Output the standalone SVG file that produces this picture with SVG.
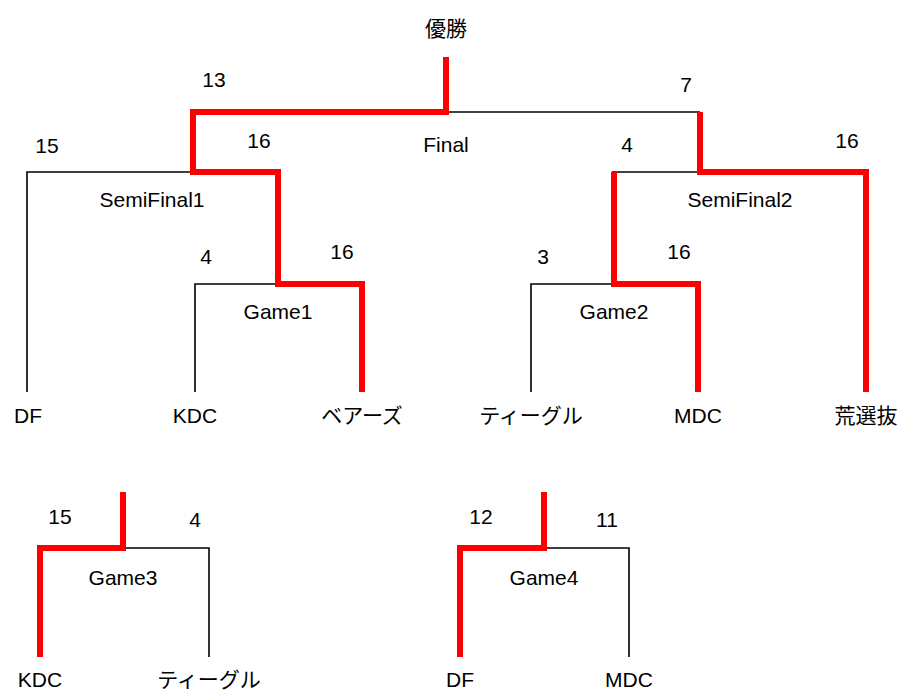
<svg xmlns="http://www.w3.org/2000/svg" width="900" height="692" viewBox="0 0 900 692">
<style>
text{font-family:"Liberation Sans","Noto Sans CJK JP",sans-serif;font-size:21px;fill:#000;text-anchor:middle}
.b{fill:none;stroke:#000;stroke-width:1.6}
.r{fill:none;stroke:#ff0000;stroke-width:6;stroke-linejoin:miter;stroke-linecap:butt}
</style>
<rect width="900" height="692" fill="#fff"/>
<g id="connectors">
<path class="b" d="M446,112 H700"/>
<path class="b" d="M193,172 H27 V392"/>
<path class="b" d="M278,284 H195 V392"/>
<path class="b" d="M700,172 H612"/>
<path class="b" d="M614,284 H531 V392"/>
<path class="r" d="M446,57 V112 H193 V172 H278 V284 H362 V392"/>
<path class="r" d="M700,112 V172 H866 V392"/>
<path class="r" d="M614,172 V284 H698 V392"/>
<path class="b" d="M123,548 H209 V657"/>
<path class="r" d="M123,492 V548 H40 V657"/>
<path class="b" d="M544,548 H629 V657"/>
<path class="r" d="M544,492 V548 H460 V657"/>
</g>
<g id="champion"><text x="446" y="36">優勝</text></g>
<g id="final"><text x="446" y="152">Final</text><text x="214" y="87">13</text><text x="686" y="92">7</text></g>
<g id="semifinal1"><text x="152" y="207">SemiFinal1</text><text x="47" y="153">15</text><text x="259" y="148">16</text></g>
<g id="semifinal2"><text x="740" y="207">SemiFinal2</text><text x="627" y="152">4</text><text x="847" y="148">16</text></g>
<g id="game1"><text x="278" y="319">Game1</text><text x="206" y="264">4</text><text x="342" y="259">16</text></g>
<g id="game2"><text x="614" y="319">Game2</text><text x="543" y="264">3</text><text x="679" y="259">16</text></g>
<g id="team-df"><text x="28" y="423">DF</text></g>
<g id="team-kdc"><text x="195" y="423">KDC</text></g>
<g id="team-bears"><text x="362" y="423">ベアーズ</text></g>
<g id="team-teagle"><text x="531" y="423">ティーグル</text></g>
<g id="team-mdc"><text x="698" y="423">MDC</text></g>
<g id="team-arasenbatsu"><text x="866" y="423">荒選抜</text></g>
<g id="game3"><text x="123" y="585">Game3</text><text x="60" y="524">15</text><text x="195" y="527">4</text></g>
<g id="game3-kdc"><text x="40" y="687">KDC</text></g>
<g id="game3-teagle"><text x="209" y="687">ティーグル</text></g>
<g id="game4"><text x="544" y="585">Game4</text><text x="481" y="524">12</text><text x="607" y="527">11</text></g>
<g id="game4-df"><text x="460" y="687">DF</text></g>
<g id="game4-mdc"><text x="629" y="687">MDC</text></g>
</svg>
